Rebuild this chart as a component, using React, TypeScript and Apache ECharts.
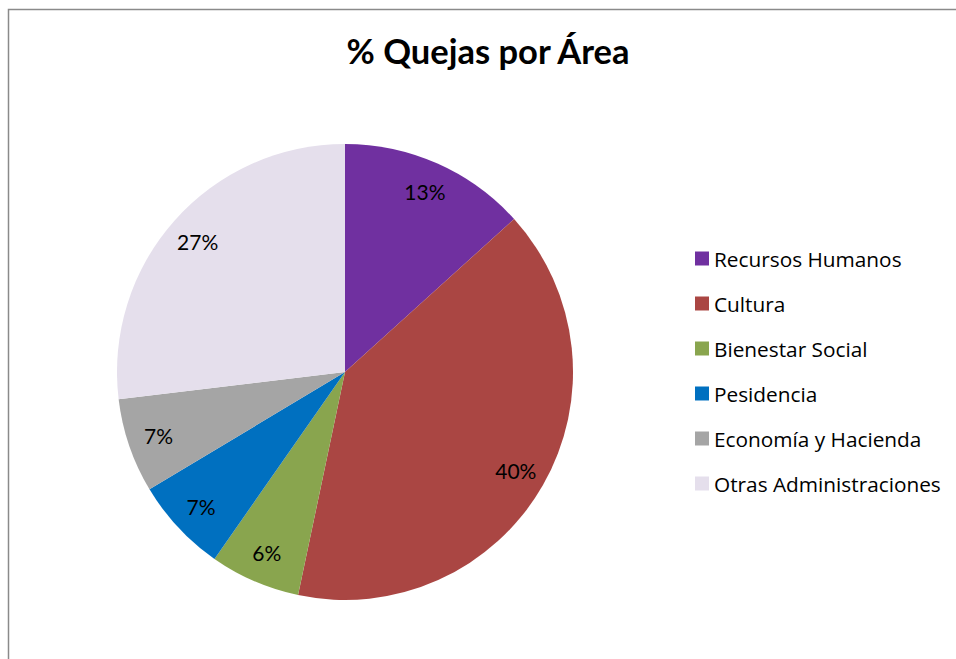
import React, { useEffect, useRef } from "react";
import * as echarts from "echarts";

const categories = [
  "Recursos Humanos",
  "Cultura",
  "Bienestar Social",
  "Pesidencia",
  "Economía y Hacienda",
  "Otras Administraciones",
];
const values = [13.3, 40.0, 6.4, 6.7, 6.7, 26.9];
const colors = ["#7030A0", "#AA4643", "#89A54E", "#0070C0", "#A5A5A5", "#E5DFEC"];
const titleText = "% Quejas por Área";

export default function App() {
  const ref = useRef<HTMLDivElement>(null);
  useEffect(() => {
    if (!ref.current) return;
    const chart = echarts.init(ref.current, undefined, { renderer: "svg" });
    const font = "Lato, Calibri, 'Open Sans', sans-serif";
    const legendFont = "'Open Sans', Lato, sans-serif";
    const data = categories.map((name, i) => ({
      name,
      value: values[i],
      itemStyle: { color: colors[i] },
    }));
    chart.setOption({
      animation: false,
      backgroundColor: "#ffffff",
      title: {
        text: titleText,
        left: 483,
        textAlign: "center",
        top: 28,
        textStyle: { fontFamily: font, fontWeight: "bold", fontSize: 34.5, color: "#000" },
      },
      graphic: [
        {
          type: "rect",
          shape: { x: 8.5, y: 9.5, width: 1000, height: 700 },
          style: { fill: "none", stroke: "#8a8a8a", lineWidth: 1.5 },
          silent: true,
        },
      ],
      legend: {
        orient: "vertical",
        left: 690,
        top: 243,
        itemWidth: 14,
        itemHeight: 14,
        itemGap: 24,
        icon: "rect",
        textStyle: { fontFamily: legendFont, fontSize: 20.8, color: "#000", lineHeight: 21, padding: [0, 0, 0, 0] },
        data: categories.map((name, i) => ({ name, itemStyle: { color: colors[i] } })),
        selectedMode: false,
      },
      series: [
        {
          type: "pie",
          center: [345, 372],
          radius: [0, 228],
          startAngle: 90,
          clockwise: true,
          label: { show: false },
          labelLine: { show: false },
          emphasis: { disabled: true },
          data,
          silent: true,
        },
        {
          type: "pie",
          center: [345, 372],
          radius: [160, 228],
          startAngle: 90,
          clockwise: true,
          itemStyle: { color: "rgba(0,0,0,0)" },
          label: {
            show: true,
            position: "inside",
            formatter: "{d}%",
            fontFamily: font,
            fontSize: 21,
            color: "#000",
          },
          percentPrecision: 0,
          labelLine: { show: false },
          emphasis: { disabled: true },
          data: categories.map((name, i) => ({ name, value: values[i] })),
          silent: true,
        },
      ],
    });
    return () => chart.dispose();
  }, []);
  return (
    <div
      ref={ref}
      style={{ position: "fixed", left: 0, top: 0, width: 956, height: 659 }}
    />
  );
}
